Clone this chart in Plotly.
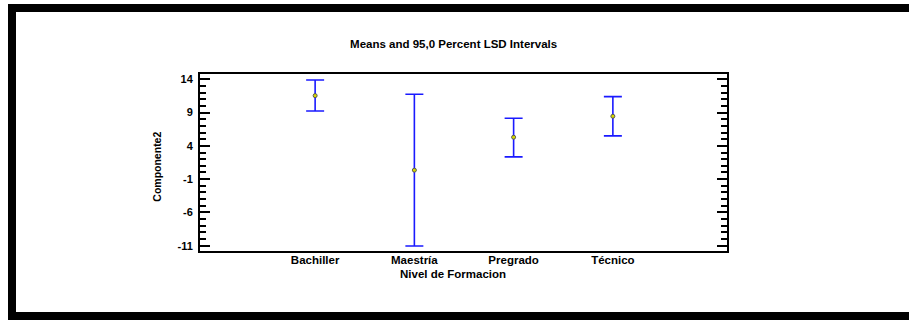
import plotly.graph_objects as go

categories = ["Bachiller", "Maestría", "Pregrado", "Técnico"]
means = [11.55, 0.35, 5.3, 8.45]
upper = [13.9, 11.75, 8.15, 11.4]
lower = [9.25, -11.05, 2.35, 5.5]
y_tickvals = [-11, -6, -1, 4, 9, 14]
y_ticktext = ["-11", "-6", "-1", "4", "9", "14"]

err_plus = [u - m for u, m in zip(upper, means)]
err_minus = [m - l for m, l in zip(means, lower)]

W, H = 909, 320
L, R, T, B = 200, 909 - 727, 74, 320 - 251
pw, ph = W - L - R, H - T - B

def px(x):
    return (x - L) / pw

def py(y):
    return (H - B - y) / ph

FONT = "Liberation Sans, Arial, sans-serif"

fig = go.Figure()
fig.add_trace(go.Scatter(
    x=categories, y=means, mode="markers",
    marker=dict(symbol="circle", size=4, color="#D8D800",
                line=dict(color="#555555", width=1)),
    error_y=dict(type="data", symmetric=False, array=err_plus, arrayminus=err_minus,
                 color="#1A1AFF", thickness=1.6, width=9),
    showlegend=False, hoverinfo="x+y",
))

frame = dict(type="rect", xref="paper", yref="paper", fillcolor="black",
             line=dict(width=0), layer="above")
fig.update_layout(
    width=W, height=H,
    margin=dict(l=L, r=R, t=T, b=B, pad=0),
    paper_bgcolor="white", plot_bgcolor="white",
    font=dict(family=FONT, size=11, color="black"),
    title=dict(text="<b>Means and 95,0 Percent LSD Intervals</b>",
               x=px(463), xanchor="center", y=1 - 43.7 / H, yanchor="middle",
               font=dict(family=FONT, size=11.5, color="black")),
    xaxis=dict(
        type="category", range=[-1.16, 4.15],
        showline=True, linecolor="black", linewidth=2, mirror=True,
        ticks="", showgrid=False, zeroline=False,
        tickfont=dict(family=FONT, size=11.5, color="black", weight="bold"),
        ticklabelstandoff=-3,
        title=dict(text=""),
    ),
    yaxis=dict(
        range=[-11.8, 14.8],
        tickmode="array", tickvals=y_tickvals, ticktext=y_ticktext,
        ticks="inside", ticklen=10, tickwidth=2, tickcolor="black",
        minor=dict(dtick=1, tick0=-11, ticks="inside", ticklen=6, tickwidth=1.5,
                   tickcolor="black", showgrid=False),
        showline=True, linecolor="black", linewidth=2, mirror="ticks",
        showgrid=False, zeroline=False,
        tickfont=dict(family=FONT, size=11, color="black", weight="bold"),
        ticklabelstandoff=3,
        title=dict(text=""),
    ),
    shapes=[
        dict(frame, x0=px(8), x1=px(W + 20), y0=py(12), y1=py(4)),
        dict(frame, x0=px(8), x1=px(16), y0=py(H + 20), y1=py(4)),
        dict(frame, x0=px(8), x1=px(W + 20), y0=py(H + 20), y1=py(312)),
    ],
    annotations=[
        dict(text="<b>Componente2</b>", xref="paper", yref="paper",
             x=px(157), y=py(166.7), textangle=-90, showarrow=False,
             xanchor="center", yanchor="middle",
             font=dict(family=FONT, size=10.5, color="black")),
        dict(text="<b>Nivel de Formacion</b>", xref="paper", yref="paper",
             x=px(453), y=py(274), showarrow=False,
             xanchor="center", yanchor="middle",
             font=dict(family=FONT, size=11.5, color="black")),
    ],
)

fig.write_html("out.html")
